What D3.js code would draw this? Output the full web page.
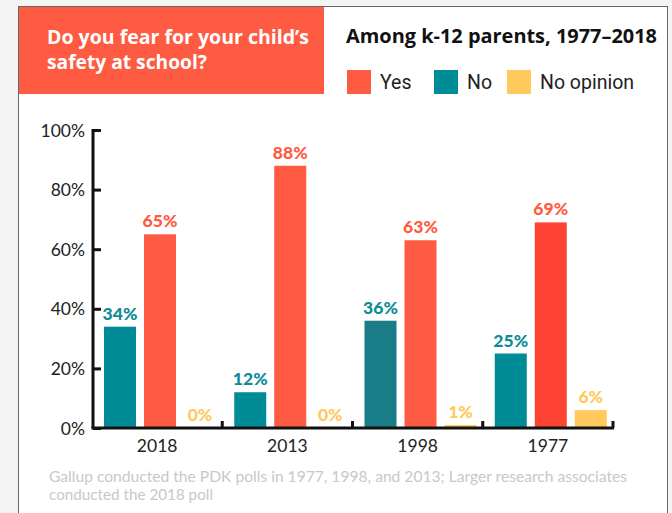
<!DOCTYPE html>
<html>
<head>
<meta charset="utf-8">
<script src="https://cdn.jsdelivr.net/npm/d3@7"></script>
<style>
  html, body { margin: 0; padding: 0; background: #f4f4f4; }
  svg { display: block; }
</style>
</head>
<body>
<svg id="chart" width="672" height="513"></svg>
<script>
const categories = ["2018", "2013", "1998", "1977"];
const seriesNames = ["No", "Yes", "No opinion"];
const yesValues = [65, 88, 63, 69];
const noValues = [34, 12, 36, 25];
const noOpinionValues = [0, 0, 1, 6];
const yTicks = [0, 20, 40, 60, 80, 100];
const footnoteLines = [
  "Gallup conducted the PDK polls in 1977, 1998, and 2013; Larger research associates",
  "conducted the 2018 poll"
];

const baseColors = { "Yes": "#ff5a42", "No": "#008c96", "No opinion": "#ffc95c" };
const overrideColors = { "1977|Yes": "#ff4333", "1998|No": "#1a7c86" };

const svg = d3.select("#chart");

// panel
svg.append("rect").attr("x", 18.5).attr("y", 6.5).attr("width", 649).attr("height", 520)
  .attr("fill", "#ffffff").attr("stroke", "#666").attr("stroke-width", 1);

// title box
svg.append("rect").attr("x", 19).attr("y", 7).attr("width", 305).attr("height", 87).attr("fill", "#ff5a42");
const titleFont = "'Open Sans', Roboto, 'Liberation Sans', sans-serif";
const tb = svg.append("text").attr("fill", "#fff").attr("font-family", titleFont)
  .attr("font-weight", "bold").attr("font-size", 19.5);
tb.append("tspan").attr("x", 47).attr("y", 44).attr("textLength", 262).attr("lengthAdjust", "spacingAndGlyphs")
  .text("Do you fear for your child\u2019s");
tb.append("tspan").attr("x", 47).attr("y", 69).attr("textLength", 160).attr("lengthAdjust", "spacingAndGlyphs")
  .text("safety at school?");

svg.append("text").attr("x", 346).attr("y", 43).attr("fill", "#111")
  .attr("font-family", titleFont).attr("font-weight", "bold").attr("font-size", 19)
  .attr("textLength", 311).attr("lengthAdjust", "spacingAndGlyphs")
  .text("Among k-12 parents, 1977\u20132018");

// legend
const legendItems = [
  { name: "Yes", x: 347 },
  { name: "No", x: 434 },
  { name: "No opinion", x: 507 }
];
const lg = svg.append("g");
legendItems.forEach(d => {
  lg.append("rect").attr("x", d.x).attr("y", 70).attr("width", 24).attr("height", 24).attr("fill", baseColors[d.name]);
  lg.append("text").attr("x", d.x + 33).attr("y", 89).attr("fill", "#222")
    .attr("font-family", "Roboto, 'Liberation Sans', sans-serif").attr("font-size", 19.5).text(d.name);
});

// scales
const x0 = d3.scaleBand().domain(categories).range([92, 613]);
const x1 = d3.scaleBand().domain(seriesNames).range([12, 124]).paddingInner(0.2);
const y = d3.scaleLinear().domain([0, 100]).range([428, 130]);

const rows = categories.map((c, i) => ({
  cat: c,
  vals: [
    { key: "No", v: noValues[i] },
    { key: "Yes", v: yesValues[i] },
    { key: "No opinion", v: noOpinionValues[i] }
  ]
}));

const groups = svg.append("g").selectAll("g").data(rows).join("g")
  .attr("transform", d => `translate(${x0(d.cat)},0)`);

groups.selectAll("rect").data(d => d.vals.map(v => ({ ...v, cat: d.cat }))).join("rect")
  .attr("x", d => x1(d.key)).attr("width", x1.bandwidth())
  .attr("y", d => y(d.v)).attr("height", d => y(0) - y(d.v))
  .attr("fill", d => overrideColors[d.cat + "|" + d.key] || baseColors[d.key]);

const labelColors = { "Yes": "#ff5a42", "No": "#0d8c96", "No opinion": "#ffc95c" };
groups.selectAll("text.val").data(d => d.vals).join("text").attr("class", "val")
  .attr("x", d => x1(d.key) + x1.bandwidth() / 2)
  .attr("y", d => y(d.v) - 7)
  .attr("text-anchor", "middle")
  .attr("fill", d => labelColors[d.key])
  .attr("font-family", "Lato, 'Open Sans', sans-serif").attr("font-weight", "900").attr("font-size", 17.5)
  .text(d => d.v + "%");

// y axis
const yAxis = svg.append("g").attr("transform", "translate(93,0)")
  .call(d3.axisRight(y).tickValues(yTicks).tickSize(8).tickFormat(d => d + "%"));
yAxis.select(".domain").attr("stroke", "#111").attr("stroke-width", 3).attr("d", "M1,130.5H0V428.5");
yAxis.selectAll(".tick line").attr("stroke", "#111").attr("stroke-width", 3);
yAxis.selectAll(".tick text").attr("x", -8).attr("text-anchor", "end").attr("dy", "0.35em")
  .attr("fill", "#222").attr("font-family", "Lato, sans-serif").attr("font-size", 17.5);

// x axis
const xAxis = svg.append("g").attr("transform", "translate(0,428)")
  .call(d3.axisBottom(x0).tickSize(0).tickPadding(12));
xAxis.select(".domain").attr("stroke", "#111").attr("stroke-width", 3).attr("d", "M91.5,0H614");
xAxis.selectAll(".tick text").attr("fill", "#222").attr("font-family", "Lato, sans-serif").attr("font-size", 17.5)
  .attr("dy", "0.71em");
// boundary ticks (pointing up)
const bounds = categories.slice(1).map(c => x0(c)).concat([x0.range()[1]]);
svg.append("g").selectAll("line").data(bounds).join("line")
  .attr("x1", d => d).attr("x2", d => d).attr("y1", 428).attr("y2", 421)
  .attr("stroke", "#111").attr("stroke-width", 3);

// footnote
const fn = svg.append("text").attr("fill", "#c8c8c8").attr("font-family", "Lato, sans-serif").attr("font-size", 15.5);
const fnWidths = [578, 164];
footnoteLines.forEach((t, i) => fn.append("tspan").attr("x", 49).attr("y", 482 + i * 18)
  .attr("textLength", fnWidths[i]).attr("lengthAdjust", "spacingAndGlyphs").text(t));
</script>
</body>
</html>
